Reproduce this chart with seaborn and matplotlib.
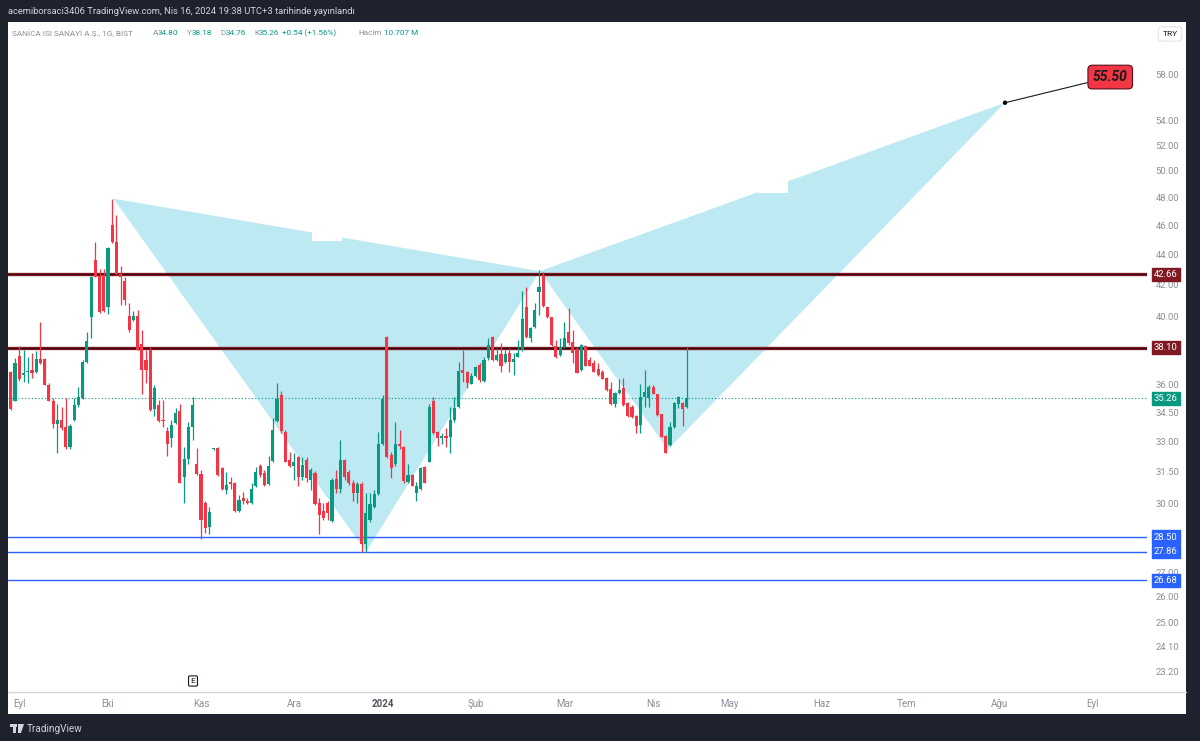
import numpy as np
import pandas as pd
import matplotlib
matplotlib.use("Agg")
import matplotlib.pyplot as plt
import seaborn as sns
from matplotlib.patches import Rectangle, Polygon
from matplotlib.lines import Line2D
from matplotlib.ticker import NullLocator

# ---------------- data ----------------
first_bar = -2
opens = [36.73, 35.13, 37.60, 36.55, 36.70, 36.85, 36.73, 37.48, 37.48, 36.00,
         35.13, 33.90, 34.13, 33.75, 32.70, 34.10, 34.90, 35.30, 37.30, 39.93,
         43.60, 42.55, 42.60, 40.55, 46.00, 44.80, 42.67, 42.23, 40.00, 39.77,
         40.00, 38.30, 37.40, 38.00, 34.68, 34.90, 34.13, 33.55, 33.16, 33.97,
         34.60, 31.27, 32.15, 33.77, 31.87, 31.40, 30.02, 28.95, 32.60, 32.65,
         31.67, 30.63, 31.00, 30.98, 29.68, 30.24, 30.13, 30.02, 30.82, 31.80,
         31.43, 30.92, 32.03, 34.05, 35.45, 33.50, 32.10, 31.80, 32.25, 31.24,
         32.07, 31.11, 31.46, 30.02, 29.68, 30.02, 29.22, 31.16, 30.66, 32.07,
         31.50, 30.98, 30.50, 30.92, 28.22, 29.25, 29.86, 30.45, 32.90, 38.73,
         32.33, 31.87, 32.90, 32.70, 31.03, 31.33, 30.50, 30.70, 31.72, 32.00,
         35.13, 33.50, 33.16, 33.28, 33.25, 34.10, 34.80, 36.83, 36.73, 36.07,
         36.50, 37.10, 36.22, 37.49, 38.75, 37.37, 37.73, 37.30, 37.79, 37.30,
         37.58, 37.97, 40.55, 38.66, 39.37, 41.50, 42.60, 40.55, 39.93, 38.20,
         37.70, 38.14, 39.06, 38.46, 38.04, 36.83, 38.20, 37.40, 37.25, 36.87,
         36.73, 36.40, 35.75, 34.95, 35.56, 35.85, 35.02, 34.80, 34.33, 33.85,
         35.35, 35.26, 35.89, 35.50, 34.41, 33.28, 32.84, 33.74, 34.95, 35.00,
         34.80]
highs = [36.80, 37.50, 38.20, 38.00, 37.55, 37.80, 37.90, 39.66, 37.50, 36.10,
         35.30, 34.95, 34.80, 35.30, 33.90, 35.30, 35.90, 37.40, 39.05, 42.55,
         44.80, 42.98, 43.00, 44.50, 47.90, 46.75, 43.20, 42.50, 40.80, 40.30,
         40.40, 39.16, 38.00, 38.15, 36.00, 35.17, 35.17, 33.77, 34.10, 34.72,
         34.95, 32.73, 34.00, 35.33, 32.65, 31.59, 30.10, 29.86, 32.65, 32.70,
         31.75, 31.50, 31.27, 31.03, 30.40, 30.55, 30.25, 30.98, 31.75, 31.88,
         31.59, 32.30, 34.20, 36.10, 35.68, 33.59, 32.48, 32.40, 32.30, 32.25,
         32.25, 31.67, 31.52, 30.25, 30.02, 30.10, 31.19, 31.59, 33.10, 32.15,
         31.59, 31.11, 31.03, 31.03, 30.50, 30.50, 30.63, 33.50, 35.45, 38.80,
         32.48, 34.00, 33.60, 32.75, 31.90, 31.40, 31.03, 31.75, 31.80, 34.97,
         35.35, 33.55, 33.42, 33.67, 34.80, 35.33, 37.30, 37.97, 36.80, 36.67,
         37.05, 37.20, 37.58, 38.66, 38.78, 38.12, 38.36, 37.97, 38.07, 37.80,
         38.56, 41.60, 41.80, 39.37, 40.83, 42.93, 42.80, 40.62, 39.96, 38.56,
         38.66, 39.67, 40.48, 39.16, 38.13, 38.33, 38.26, 37.58, 37.40, 37.20,
         36.83, 36.43, 36.15, 35.62, 36.35, 36.40, 35.08, 34.88, 34.36, 36.04,
         36.83, 35.99, 35.99, 35.52, 34.45, 33.33, 33.98, 35.08, 35.40, 35.08,
         38.18]
lows = [34.65, 35.10, 36.20, 36.15, 36.10, 36.40, 36.67, 37.16, 35.98, 35.10,
        33.68, 32.40, 33.60, 32.60, 32.60, 34.05, 34.80, 35.20, 37.25, 38.66,
        42.45, 40.22, 40.28, 40.13, 44.75, 42.60, 40.70, 40.70, 39.06, 39.72,
        37.95, 35.50, 36.10, 34.60, 34.30, 34.02, 33.77, 32.28, 32.73, 33.90,
        30.95, 30.05, 31.90, 33.07, 31.35, 28.40, 28.70, 28.64, 32.55, 31.32,
        30.63, 30.45, 30.70, 29.64, 29.60, 30.00, 29.98, 29.98, 30.78, 31.25,
        30.80, 30.85, 31.98, 34.00, 33.42, 31.97, 31.74, 31.10, 30.80, 31.10,
        31.03, 30.63, 29.96, 28.63, 29.25, 29.25, 29.18, 30.50, 30.50, 31.11,
        30.87, 30.10, 30.02, 27.86, 27.86, 29.18, 29.80, 30.40, 32.85, 32.20,
        31.19, 31.80, 32.60, 30.95, 30.95, 30.80, 30.10, 30.63, 30.95, 31.98,
        33.38, 32.76, 32.90, 32.73, 32.40, 34.02, 34.76, 36.15, 35.80, 36.02,
        36.45, 36.15, 36.15, 37.40, 37.32, 37.32, 36.73, 37.20, 36.73, 36.55,
        37.55, 37.93, 38.68, 38.47, 39.27, 40.06, 40.55, 39.87, 38.22, 37.54,
        37.62, 38.08, 38.27, 37.20, 36.64, 36.80, 37.03, 37.03, 36.70, 36.50,
        36.30, 35.67, 34.90, 34.80, 35.52, 34.85, 34.28, 34.20, 33.42, 33.42,
        34.80, 34.80, 35.48, 34.31, 33.22, 32.40, 32.78, 33.70, 34.72, 33.80,
        34.76]
closes = [34.67, 37.20, 36.35, 36.64, 36.72, 36.67, 37.45, 37.20, 36.00, 35.13,
          33.90, 34.10, 33.70, 32.70, 33.80, 34.90, 35.36, 37.30, 38.50, 42.50,
          42.50, 40.28, 40.34, 44.40, 44.80, 42.67, 42.50, 41.00, 39.16, 40.00,
          38.00, 36.83, 36.83, 34.63, 35.85, 34.07, 34.07, 32.90, 33.85, 34.50,
          30.98, 32.15, 33.77, 34.90, 31.40, 29.25, 28.88, 29.63, 32.62, 31.35,
          30.70, 30.87, 30.92, 29.68, 30.17, 30.10, 30.02, 30.68, 31.50, 31.35,
          30.87, 31.78, 33.59, 35.25, 33.55, 32.00, 31.77, 32.00, 31.27, 31.83,
          31.20, 31.59, 30.00, 29.48, 29.33, 29.58, 31.11, 30.66, 32.07, 31.27,
          30.95, 30.50, 30.92, 28.22, 29.58, 29.98, 30.45, 32.90, 35.20, 32.25,
          31.67, 32.88, 32.75, 31.05, 31.35, 30.82, 30.80, 31.67, 30.98, 34.80,
          33.42, 33.16, 33.28, 33.16, 34.10, 34.72, 36.80, 36.67, 36.10, 36.50,
          36.99, 36.26, 37.40, 38.27, 37.37, 37.70, 37.06, 37.75, 37.30, 37.44,
          37.79, 39.80, 38.73, 39.27, 40.40, 41.80, 40.60, 39.93, 38.27, 37.58,
          38.14, 38.66, 38.36, 37.81, 36.67, 38.27, 37.06, 37.06, 36.73, 36.55,
          36.35, 35.71, 34.95, 35.56, 35.71, 34.90, 34.32, 34.28, 33.80, 35.35,
          35.62, 35.89, 35.52, 34.36, 33.25, 32.44, 33.77, 35.00, 35.32, 34.67,
          35.26]

month_pos = [0, 21, 43, 65, 86, 108, 129, 150, 168, 190, 210, 232, 254]
month_labels = ["Eyl", "Eki", "Kas", "Ara", "2024", "Şub", "Mar", "Nis",
                "May", "Haz", "Tem", "Ağu", "Eyl"]
price_ticks = [58, 54, 52, 50, 48, 46, 44, 42, 40, 36, 34.5, 33, 31.5, 30,
               27, 26, 25, 24.1, 23.2]
resistance_levels = [42.66, 38.10]
support_levels = [28.50, 27.86, 26.68]
last_price = 35.26
pattern_bars = [22.3, 82.1, 123.2, 153.5, 233.3]       # X, A, B, C, D
pattern_prices = [47.90, 27.86, 42.86, 32.60, 55.50]
target_text = "55.50"

header_text = "acemiborsaci3406 TradingView.com, Nis 16, 2024 19:38 UTC+3 tarihinde yayınlandı"
symbol_text = "SANİCA ISI SANAYİ A.Ş., 1G, BIST"
ohlc_names = ["A", "Y", "D", "K"]
ohlc_values = ["34.80", "38.18", "34.76", "35.26"]
change_text = "+0.54 (+1.56%)"
volume_name, volume_value = "Hacim", "10.707 M"

# ---------------- style ----------------
sns.set_theme(style="white")
plt.rcParams["font.family"] = ["Roboto", "DejaVu Sans"]

W, H = 1200, 741
BG = "#1e222d"
GREEN = "#089981"
RED = "#f23645"
BLUE = "#2962ff"
DARKRED = "#801922"
AXTXT = "#8c8f99"
FILL = "#bce9f2"

def fx(x):
    return x / W

def fy(y):
    return 1 - y / H

fig = plt.figure(figsize=(12, 7.41), dpi=100, facecolor=BG)
fig.patches.append(Rectangle((fx(8), fy(714)), (1186 - 8) / W, (714 - 22) / H,
                             transform=fig.transFigure, facecolor="white",
                             edgecolor="none", zorder=-5))

ax = fig.add_axes([fx(8), fy(692), (1147 - 8) / W, (692 - 22) / H])
ax.set_zorder(1)
ax.set_facecolor("white")
for s in ax.spines.values():
    s.set_visible(False)
ax.set_yscale("log")
ax.set_xlim(-2.67, 266.9)
ax.set_ylim(22.47, 62.82)

df = pd.DataFrame({"bar": np.arange(first_bar, first_bar + len(opens)),
                   "open": opens, "high": highs, "low": lows, "close": closes})
up = df["close"] >= df["open"]
colors = np.where(up, GREEN, RED)

# harmonic pattern fills
ax.fill(pattern_bars[:3], pattern_prices[:3], color=FILL, lw=0, zorder=1)
ax.fill(pattern_bars[2:], pattern_prices[2:], color=FILL, lw=0, zorder=1)
# label notches (blank label boxes)
ax.add_patch(Rectangle((69.3, 44.89), 7.1, 1.6, facecolor="white", edgecolor="none", zorder=1.5))
ax.add_patch(Rectangle((174.8, 48.32), 7.1, 1.9, facecolor="white", edgecolor="none", zorder=1.5))

# horizontal levels
for lv in resistance_levels:
    ax.axhline(lv, color=DARKRED, lw=2.4, zorder=2)
    ax.axhline(lv, color="#2a080c", lw=0.6, zorder=2.1)
for lv in support_levels:
    ax.axhline(lv, color=BLUE, lw=1.0, zorder=2)
ax.axhline(last_price, color=GREEN, lw=0.8, ls=(0, (1, 2)), zorder=2)

# candles
ax.vlines(df["bar"], df["low"], df["high"], colors=colors, lw=0.9, zorder=4)
body_low = df[["open", "close"]].min(axis=1)
body_h = (df["close"] - df["open"]).abs().clip(lower=0.05)
ax.bar(df["bar"], body_h, bottom=body_low, width=0.74, color=colors,
       edgecolor="none", zorder=5)

# target point and label
sns.scatterplot(x=[pattern_bars[-1]], y=[pattern_prices[-1]], color="black",
                s=10, ax=ax, zorder=7, legend=False, edgecolor="none")
ax.annotate(target_text, xy=(pattern_bars[-1], pattern_prices[-1]),
            xytext=(258.2, 57.73), textcoords="data", ha="center", va="center",
            fontsize=10, fontweight="bold", fontstyle="italic", color="#1a1a1a",
            bbox=dict(boxstyle="round,pad=0.35,rounding_size=0.3", fc=RED,
                      ec="#5a0d16", lw=0.8),
            arrowprops=dict(arrowstyle="-", color="#131722", lw=0.8,
                            shrinkA=0, shrinkB=0), zorder=8)

# y axis
ax.yaxis.tick_right()
ax.set_yticks(price_ticks)
ax.set_yticklabels([f"{v:.2f}" for v in price_ticks])
ax.yaxis.set_minor_locator(NullLocator())
ax.tick_params(axis="y", length=0, pad=6, labelsize=6.8, labelcolor=AXTXT)

# x axis
ax.set_xticks(month_pos)
ax.set_xticklabels(month_labels)
ax.xaxis.set_minor_locator(NullLocator())
ax.tick_params(axis="x", length=0, pad=5, labelsize=7, labelcolor=AXTXT)
for t in ax.get_xticklabels():
    if t.get_text() == "2024":
        t.set_fontweight("bold")
        t.set_color("#50535e")

# price axis labels
ytr = ax.get_yaxis_transform()
def axis_label(val, fc):
    ax.text((1154 - 8) / 1139, val, f"{val:.2f}", transform=ytr, ha="left",
            va="center", fontsize=6.8, color="white", clip_on=False, zorder=9,
            bbox=dict(boxstyle="square,pad=0.22", fc=fc, ec=fc))
for lv in resistance_levels:
    axis_label(lv, DARKRED)
for lv in support_levels:
    axis_label(lv, BLUE)
axis_label(last_price, GREEN)

# separator of time axis
fig.add_artist(Line2D([fx(8), fx(1186)], [fy(692), fy(692)], color="#d6d9e0",
                      lw=1, transform=fig.transFigure, zorder=2))

# header text
fig.text(fx(7.5), fy(11), header_text, color="#d1d4dc", fontsize=6.75, va="center")

# legend line
LF = 5.9
ly = fy(33)
fig.text(fx(12.5), ly, symbol_text, color=AXTXT, fontsize=LF, va="center", zorder=3)
xs = [152.5, 187, 220.5, 254]
for name, val, x0 in zip(ohlc_names, ohlc_values, xs):
    fig.text(fx(x0), ly, name, color=AXTXT, fontsize=LF, va="center", zorder=3)
    fig.text(fx(x0 + 5), ly, val, color=GREEN, fontsize=LF, va="center", zorder=3)
fig.text(fx(282), ly, change_text, color=GREEN, fontsize=LF, va="center", zorder=3)
fig.text(fx(358), ly, volume_name, color=AXTXT, fontsize=LF, va="center", zorder=3)
fig.text(fx(383.5), ly, volume_value, color=GREEN, fontsize=LF, va="center", zorder=3)

# currency box
fig.text(fx(1170), fy(34), "TRY", color="#131722", fontsize=6, ha="center", va="center", zorder=3,
         bbox=dict(boxstyle="round,pad=0.5,rounding_size=0.4", fc="white", ec="#e0e3eb", lw=0.8))

# earnings marker
fig.text(fx(193), fy(681), "E", color="#131722", fontsize=6, ha="center", va="center", zorder=3,
         bbox=dict(boxstyle="round,pad=0.25,rounding_size=0.15", fc="white", ec="#131722", lw=0.8))

# footer logo + text
fig.patches.append(Rectangle((fx(10), fy(727)), 7 / W, 3 / H, transform=fig.transFigure,
                             facecolor="#d1d4dc", edgecolor="none"))
fig.patches.append(Rectangle((fx(13), fy(733)), 3 / W, 9 / H, transform=fig.transFigure,
                             facecolor="#d1d4dc", edgecolor="none"))
fig.patches.append(Polygon([(fx(18), fy(724)), (fx(24), fy(724)), (fx(21), fy(733)), (fx(18), fy(733))],
                           closed=True, transform=fig.transFigure, facecolor="#d1d4dc", edgecolor="none"))
fig.text(fx(27), fy(728.5), "TradingView", color="#d1d4dc", fontsize=7.2, va="center")

fig.savefig("out.png", dpi=100, facecolor=BG)
